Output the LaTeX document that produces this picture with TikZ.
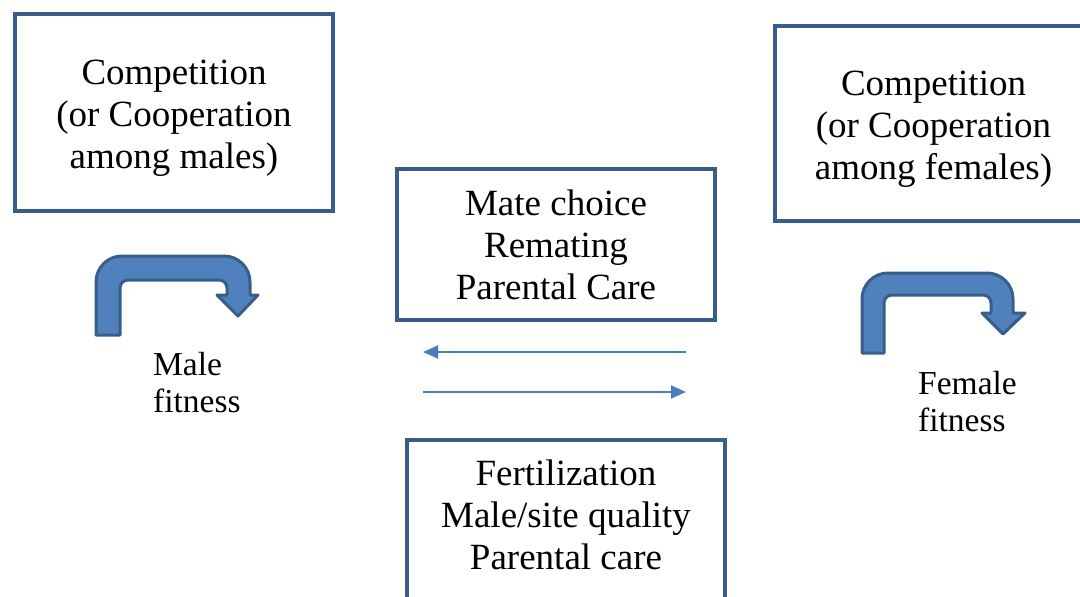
\documentclass[tikz,border=0pt]{standalone}
\usepackage{fontspec}
\setmainfont{Liberation Serif}
\usetikzlibrary{arrows.meta}
\definecolor{boxblue}{RGB}{56,93,138}
\definecolor{fillblue}{RGB}{79,129,189}
\definecolor{linblue}{RGB}{74,126,187}
\tikzset{
  panel/.style={draw=boxblue, line width=4pt, fill=white, rectangle, inner sep=0pt,
    minimum width=318pt, align=center, font=\fontsize{37}{42}\selectfont},
  bigtxt/.style={align=center, inner sep=0pt, font=\fontsize{37}{42}\selectfont},
  fitlbl/.style={align=left, inner sep=0pt, anchor=west, font=\fontsize{33.5}{37}\selectfont},
  bent/.style={draw=boxblue, fill=fillblue, line width=3pt, line join=round},
  thin/.style={draw=linblue, line width=2pt, -{Triangle[length=15pt,width=13pt]}}
}
\begin{document}
\begin{tikzpicture}[x=1pt,y=-1pt]
\useasboundingbox (0,0) rectangle (1080,597);
\clip (0,0) rectangle (1080,597);
% boxes
\node[panel, minimum height=197pt] (malebox) at (173.5,112.5) {};
\node[bigtxt] (male) at (174,118) {Competition\\(or Cooperation\\among males)};
\node[panel, minimum height=195pt] (femalebox) at (933.5,123.5) {};
\node[bigtxt] (female) at (933.5,129.5) {Competition\\(or Cooperation\\among females)};
\node[panel, minimum height=151pt] (mate) at (556,244.5)
  {Mate choice\\Remating\\Parental Care};
\node[panel, minimum height=176pt] (fertbox) at (566,528) {};
\node[bigtxt] (fert) at (566,515) {Fertilization\\Male/site quality\\Parental care};
% bent arrows
\path[bent] (96,335) -- (96,282) arc[start angle=180,end angle=270,radius=26]
  -- (224,256) arc[start angle=270,end angle=360,radius=26]
  -- (250,295) -- (258,295) -- (238,316) -- (217,295) -- (227,295)
  -- (227,288) arc[start angle=0,end angle=-90,radius=8]
  -- (128,280) arc[start angle=270,end angle=180,radius=8]
  -- (120,335) -- cycle;
\path[bent] (862,353) -- (862,299) arc[start angle=180,end angle=270,radius=26]
  -- (987,273) arc[start angle=270,end angle=360,radius=26]
  -- (1013,313) -- (1025,313) -- (1003,334) -- (982,313) -- (991,313)
  -- (991,303) arc[start angle=0,end angle=-90,radius=8]
  -- (892,295) arc[start angle=270,end angle=180,radius=8]
  -- (884,353) -- cycle;
% fitness labels
\node[fitlbl] (mfit) at (153,383) {Male\\fitness};
\node[fitlbl] (ffit) at (918,402) {Female\\fitness};
% thin arrows
\coordinate (a1s) at (686,352);
\coordinate (a1e) at (423,352);
\coordinate (a2s) at (423,392);
\coordinate (a2e) at (686,392);
\draw[thin] (a1s) -- (a1e);
\draw[thin] (a2s) -- (a2e);
\end{tikzpicture}
\end{document}
